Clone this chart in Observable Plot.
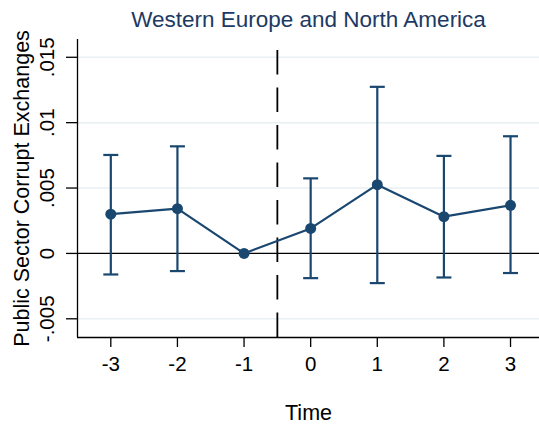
<!DOCTYPE html>
<html>
<head>
<meta charset="utf-8">
<script src="https://cdn.jsdelivr.net/npm/d3@7"></script>
<script src="https://cdn.jsdelivr.net/npm/@observablehq/plot@0.6"></script>
<style>
  html, body { margin: 0; padding: 0; background: #fff; }
  #chart svg { display: block; }
</style>
</head>
<body>
<div id="chart"></div>
<script>
// Event-study estimates with 95% confidence intervals
const periods   = [-3, -2, -1, 0, 1, 2, 3];
const estimates = [0.0030, 0.00342, 0, 0.00191, 0.00526, 0.00281, 0.00368];
const lower     = [-0.00161, -0.00135, 0, -0.00189, -0.00227, -0.00184, -0.0015];
const upper     = [0.00753, 0.00819, 0, 0.00574, 0.01274, 0.00746, 0.00896];

const yTicks      = [-0.005, 0, 0.005, 0.01, 0.015];
const yTickLabels = ["-.005", "0", ".005", ".01", ".015"];
const xTicks      = [-3, -2, -1, 0, 1, 2, 3];

const titleText = "Western Europe and North America";
const yLabel    = "Public Sector Corrupt Exchanges";
const xLabel    = "Time";
const treatmentLine = -0.5;

const xDomain = [-3.5, 3.435];
const yDomain = [-0.00643, 0.01636];

const navy = "#1a476f";
const font = "'Liberation Sans', Arial, Helvetica, sans-serif";

const rows = periods.map((p, i) => ({p, est: estimates[i], lo: lower[i], hi: upper[i]}));
const bars = rows.filter(d => d.hi !== d.lo);

// horizontal cap for the whiskers
const capSymbol = {
  draw(context) {
    context.moveTo(-7.5, 0);
    context.lineTo(7.5, 0);
  }
};

const chart = Plot.plot({
  width: 539,
  height: 427,
  marginTop: 39,
  marginBottom: 90,
  marginLeft: 77,
  marginRight: 0,
  style: {fontFamily: font, background: "#fff", overflow: "visible"},
  x: {domain: xDomain},
  y: {domain: yDomain},
  marks: [
    Plot.gridY(yTicks.filter(v => v !== 0), {stroke: "#e8f0f2", strokeOpacity: 1, strokeWidth: 1.5}),
    Plot.ruleY([0], {stroke: "#000", strokeWidth: 1.3}),
    Plot.ruleX([treatmentLine], {stroke: "#000", strokeWidth: 1.8, strokeDasharray: "24.5,13", strokeDashoffset: 26.5}),
    Plot.ruleX(bars, {x: "p", y1: "lo", y2: "hi", stroke: navy, strokeWidth: 2.2}),
    Plot.dot(bars, {x: "p", y: "lo", symbol: capSymbol, stroke: navy, strokeWidth: 2.2, fill: "none", r: 5}),
    Plot.dot(bars, {x: "p", y: "hi", symbol: capSymbol, stroke: navy, strokeWidth: 2.2, fill: "none", r: 5}),
    Plot.line(rows, {x: "p", y: "est", stroke: navy, strokeWidth: 2.2}),
    Plot.dot(rows, {x: "p", y: "est", r: 5.5, fill: navy, stroke: "none"}),
    // axes
    Plot.ruleX([xDomain[0]], {stroke: "#000", strokeWidth: 1.3}),
    Plot.ruleY([yDomain[0]], {stroke: "#000", strokeWidth: 1.3}),
    Plot.axisY({ticks: yTicks, tickSize: 11, tickFormat: () => "", label: null, stroke: "#000", strokeWidth: 1.3}),
    Plot.text(yTicks, {y: d => d, text: (d, i) => yTickLabels[i], frameAnchor: "left", dx: -30,
      rotate: -90, textAnchor: "middle", lineAnchor: "middle", fontSize: 20.5, fill: "#000"}),
    Plot.axisX({ticks: xTicks, tickSize: 10, tickPadding: 9, fontSize: 20.5, label: null,
      tickFormat: d => String(d), stroke: "#000", strokeWidth: 1.3, fill: "#000"}),
    // titles
    Plot.text([titleText], {frameAnchor: "top", dy: -20, fontSize: 22.5, fill: "#1c3a63",
      textAnchor: "middle", lineAnchor: "middle"}),
    Plot.text([yLabel], {frameAnchor: "left", dx: -55, rotate: -90, fontSize: 21.5, fill: "#000",
      textAnchor: "middle", lineAnchor: "middle"}),
    Plot.text([xLabel], {frameAnchor: "bottom", dy: 76, fontSize: 21.5, fill: "#000",
      textAnchor: "middle", lineAnchor: "middle"})
  ]
});

document.getElementById("chart").appendChild(chart);
</script>
</body>
</html>
